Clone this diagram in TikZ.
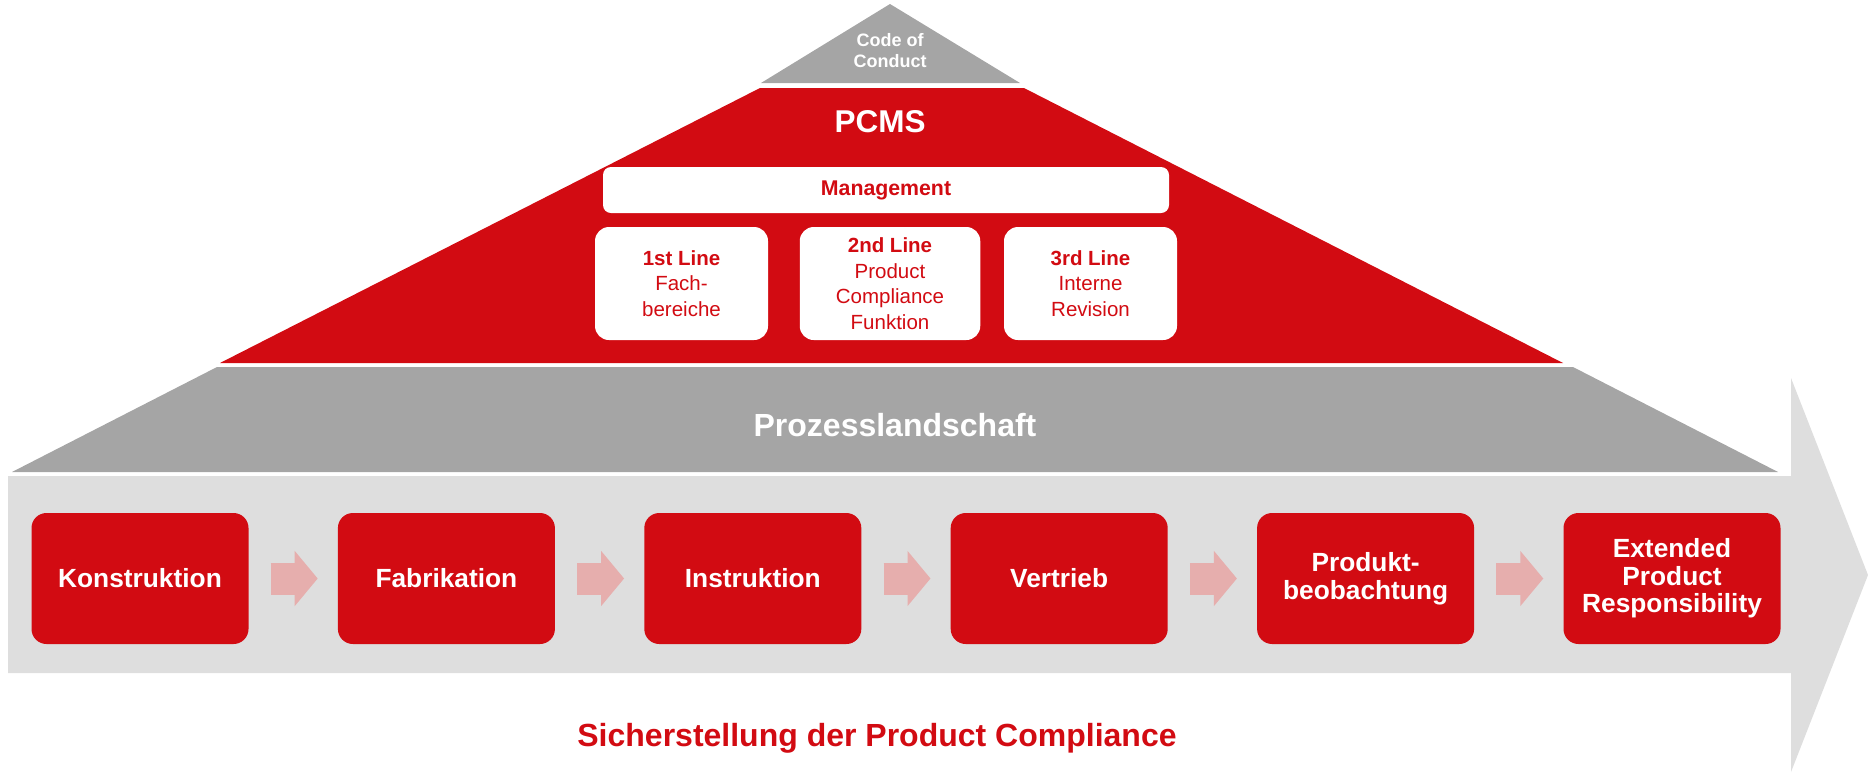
\documentclass[tikz,border=0pt]{standalone}
\usepackage{fontspec}
\setmainfont{Liberation Sans}
\usepackage{xcolor}
\usepackage{tikz}
\usetikzlibrary{arrows.meta,positioning}

\definecolor{pcred}{HTML}{D20B12}
\definecolor{roofgray}{HTML}{A5A5A5}
\definecolor{flowgray}{HTML}{DEDEDE}
\definecolor{flowpink}{HTML}{E6AEAD}

\begin{document}
\begin{tikzpicture}[x=1pt,y=-1pt]
            \tikzset{Step/.style={%
                    shape=rectangle,%
                    fill=pcred,%
                    rounded corners=15pt,%
                    minimum width=217pt,%
                    minimum height=131pt,%
                    inner sep=0pt,%
                    align=center,%
                    text=white,%
                    font=\bfseries\fontsize{26.3}{27.5}\selectfont,%
                    node distance=89pt,%
                }}
            \tikzset{LineBox/.style={%
                    shape=rectangle,%
                    fill=white,%
                    rounded corners=14pt,%
                    minimum width=173pt,%
                    minimum height=113pt,%
                    inner sep=0pt,%
                    align=center,%
                    text=pcred,%
                    font=\fontsize{20.5}{25.5}\selectfont,%
                }}
            \tikzset{Flow/.style={%
                    draw=flowpink,%
                    line width=32pt,%
                    shorten <=22pt,%
                    shorten >=20pt,%
                    -{Triangle[length=23pt,width=54pt]},%
                }}

                \useasboundingbox (0,0) rectangle (1868,772);

                % roof and base
                \fill[roofgray] (890,4) -- (1020,83) -- (761,83) -- cycle;
                \fill[pcred] (760,88) -- (1024,88) -- (1563,363) -- (220,363) -- cycle;
                \fill[roofgray] (217,367) -- (1573,367) -- (1778,472) -- (12,472) -- cycle;
                \fill[flowgray] (8,476) -- (1791,476) -- (1791,378) -- (1868,575)
                    -- (1791,772) -- (1791,673) -- (8,673) -- cycle;

                \node[text=white,font=\bfseries\fontsize{18}{21}\selectfont,align=center] (coc) at (890,51) {Code of\\Conduct};
                \node[text=white,font=\bfseries\fontsize{31.5}{33}\selectfont,anchor=base] (pcms) at (880,132) {PCMS};
                \node[LineBox,minimum width=566pt,minimum height=46pt,rounded corners=8pt,font=\bfseries\fontsize{21.3}{23}\selectfont] (mgmt) at (886,190) {Management};

                \node[LineBox] (l1) at (681.5,283.5) {\textbf{1st Line}\\Fach-\\bereiche};
                \node[LineBox,minimum width=180.5pt] (l2) at (890,283.5) {\textbf{2nd Line}\\Product\\Compliance\\Funktion};
                \node[LineBox] (l3) at (1090.5,283.5) {\textbf{3rd Line}\\Interne\\Revision};

                \node[text=white,font=\bfseries\fontsize{32}{34}\selectfont,anchor=base] (proz) at (895,436) {Prozesslandschaft};

                \node[Step] (k1) at (140,578.5) {Konstruktion};
                \node[Step,right=of k1] (k2) {Fabrikation};
                \node[Step,right=of k2] (k3) {Instruktion};
                \node[Step,right=of k3] (k4) {Vertrieb};
                \node[Step,right=of k4] (k5) {Produkt-\\beobachtung};
                \node[Step,right=of k5] (k6) {Extended\\Product\\Responsibility};

                \draw[Flow] (k1) -- (k2);
                \draw[Flow] (k2) -- (k3);
                \draw[Flow] (k3) -- (k4);
                \draw[Flow] (k4) -- (k5);
                \draw[Flow] (k5) -- (k6);

                \node[text=pcred,font=\bfseries\fontsize{32}{34}\selectfont,anchor=base] (goal) at (877,746) {Sicherstellung der Product Compliance};
        \end{tikzpicture}
\end{document}
